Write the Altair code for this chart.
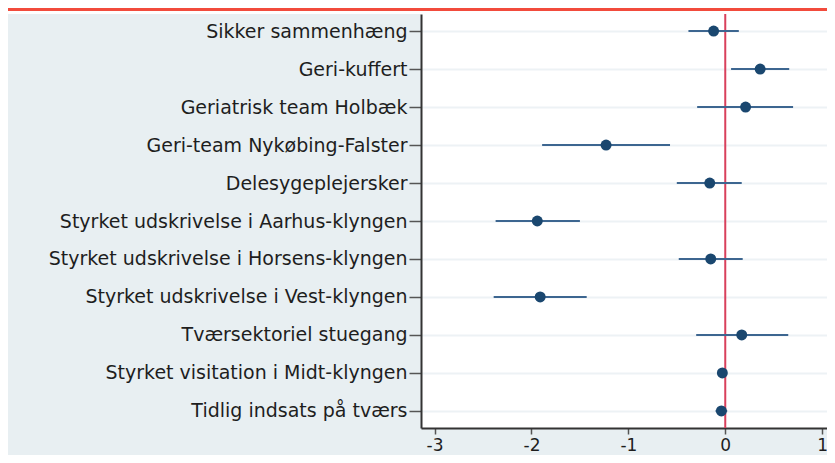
import altair as alt
import pandas as pd

labels = [
    "Sikker sammenhæng",
    "Geri-kuffert",
    "Geriatrisk team Holbæk",
    "Geri-team Nykøbing-Falster",
    "Delesygeplejersker",
    "Styrket udskrivelse i Aarhus-klyngen",
    "Styrket udskrivelse i Horsens-klyngen",
    "Styrket udskrivelse i Vest-klyngen",
    "Tværsektoriel stuegang",
    "Styrket visitation i Midt-klyngen",
    "Tidlig indsats på tværs",
]
estimate = [-0.12, 0.36, 0.21, -1.23, -0.16, -1.94, -0.15, -1.91, 0.17, -0.03, -0.04]
ci_low = [-0.38, 0.06, -0.29, -1.89, -0.50, -2.37, -0.48, -2.39, -0.30, -0.06, -0.10]
ci_high = [0.14, 0.66, 0.70, -0.57, 0.17, -1.50, 0.18, -1.43, 0.65, 0.00, 0.02]
x_ticks = [-3, -2, -1, 0, 1]

df = pd.DataFrame({"label": labels, "est": estimate, "lo": ci_low, "hi": ci_high})

FONT = "DejaVu Sans"
PLOT_W, PLOT_H = 406, 414

xscale = alt.Scale(domain=[-3.14, 1.05], nice=False, zero=False)
yscale = alt.Scale(type="point", domain=labels, padding=0.45)

base = alt.Chart(df)

ci = base.mark_rule(color="#3d6690", strokeWidth=2).encode(
    y=alt.Y("label:N", scale=yscale, sort=labels,
            axis=alt.Axis(title=None, labelFontSize=19, labelFont=FONT, labelColor="#1e1e1e",
                          tickSize=12, tickColor="#555", tickWidth=1.5, labelPadding=2,
                          domainColor="#333", domainWidth=2, grid=True,
                          gridColor="#edf2f5", gridWidth=2, labelLimit=500)),
    x=alt.X("lo:Q", scale=xscale,
            axis=alt.Axis(title=None, values=x_ticks, labelFontSize=17, labelFont=FONT,
                          labelColor="#1e1e1e", tickSize=6, tickColor="#555", tickWidth=1.5,
                          domainColor="#333", domainWidth=2, grid=False, labelPadding=3,
                          labelExpr="datum.value < 0 ? '-' + format(-datum.value, 'd') : format(datum.value, 'd')")),
    x2="hi:Q",
)

zero = alt.Chart(pd.DataFrame({"z": [0]})).mark_rule(color="#d9405c", strokeWidth=2).encode(
    x=alt.X("z:Q", scale=xscale)
)

pts = base.mark_point(filled=True, color="#1a476f", size=120, opacity=1).encode(
    y=alt.Y("label:N", scale=yscale, sort=labels),
    x=alt.X("est:Q", scale=xscale),
)

deco = pd.DataFrame({"d": [0]})
top_white = alt.Chart(deco).mark_rect(color="white").encode(
    x=alt.value(-413), x2=alt.value(PLOT_W), y=alt.value(-6), y2=alt.value(0)
)
top_red = alt.Chart(deco).mark_rect(color="#f24b3c").encode(
    x=alt.value(-413), x2=alt.value(PLOT_W), y=alt.value(-6), y2=alt.value(-3)
)

chart = alt.layer(top_white, top_red, zero, ci, pts).properties(
    width=PLOT_W, height=PLOT_H,
    background="#e8eff2",
    padding={"left": 413, "top": 6, "right": 0, "bottom": 27},
    autosize=alt.AutoSizeParams(type="none"),
).configure_view(fill="white", stroke=None)

chart.save("out.html", embed_options={"renderer": "svg", "actions": False})
